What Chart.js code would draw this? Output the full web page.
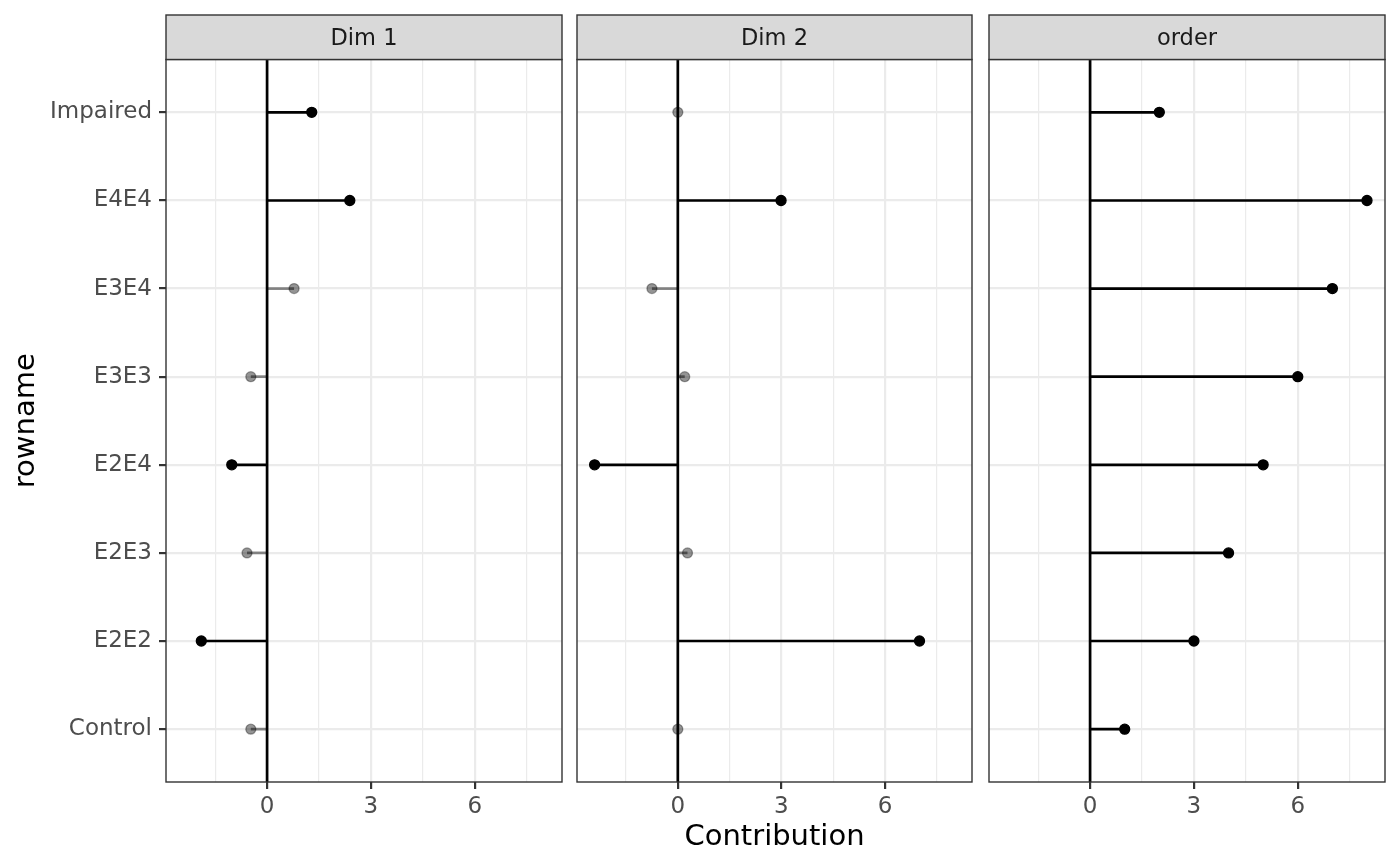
<!DOCTYPE html>
<html>
<head>
<meta charset="utf-8">
<script src="https://cdn.jsdelivr.net/npm/chart.js@4.4.1/dist/chart.umd.min.js"></script>
<style>
  html, body { margin: 0; padding: 0; background: #ffffff; }
  body { width: 1400px; height: 866px; position: relative; overflow: hidden; }
  .panel { position: absolute; top: 0; height: 866px; }
</style>
</head>
<body>
<div class="panel" style="left:0px;width:570px"><canvas id="c1"></canvas></div>
<div class="panel" style="left:570px;width:410px"><canvas id="c2"></canvas></div>
<div class="panel" style="left:980px;width:420px"><canvas id="c3"></canvas></div>
<script>
// ---- data ----
const rowNames = ['Control', 'E2E2', 'E2E3', 'E2E4', 'E3E3', 'E3E4', 'E4E4', 'Impaired'];
const panelTitles = ['Dim 1', 'Dim 2', 'order'];
const dim1Values = [-0.47, -1.9, -0.58, -1.02, -0.47, 0.78, 2.39, 1.29];
const dim2Values = [0.0, 7.0, 0.28, -2.41, 0.2, -0.75, 2.99, 0.0];
const orderValues = [1, 3, 4, 5, 6, 7, 8, 2];
const dim1Strong = [false, true, false, true, false, false, true, true];
const dim2Strong = [false, true, false, true, false, false, true, false];
const orderStrong = [true, true, true, true, true, true, true, true];
const xMajorTicks = [0, 3, 6];
const xMinorTicks = [-1.5, 1.5, 4.5, 7.5];
const xRange = [-2.92, 8.52];
const yRange = [-0.6, 7.6];

Chart.defaults.font.family = 'DejaVu Sans';
Chart.defaults.color = '#4D4D4D';

const STRONG = '#000000';
const WEAK_LINE = 'rgba(0,0,0,0.45)';
const WEAK_FILL = 'rgba(0,0,0,0.42)';
const WEAK_EDGE = 'rgba(0,0,0,0.35)';

const facetPlugin = {
  id: 'facet',
  afterDraw(chart, args, opts) {
    const ctx = chart.ctx;
    const a = chart.chartArea;
    ctx.save();
    // panel border
    ctx.strokeStyle = '#333333';
    ctx.lineWidth = 1.4;
    ctx.strokeRect(a.left, a.top, a.right - a.left, a.bottom - a.top);
    // strip
    const sTop = 15;
    ctx.fillStyle = '#D9D9D9';
    ctx.fillRect(a.left, sTop, a.right - a.left, a.top - sTop);
    ctx.strokeRect(a.left, sTop, a.right - a.left, a.top - sTop);
    ctx.fillStyle = '#1A1A1A';
    ctx.font = '22.5px "DejaVu Sans"';
    ctx.textAlign = 'center';
    ctx.textBaseline = 'alphabetic';
    ctx.fillText(opts.title, (a.left + a.right) / 2, 45);
    ctx.restore();
  }
};

function makeChart(id, idx, values, strong, pad) {
  const first = idx === 0;
  const middle = idx === 1;
  const datasets = [];
  // points (on top)
  datasets.push({
    data: values.map((v, i) => ({ x: v, y: i })),
    showLine: false,
    pointRadius: 5,
    pointBorderWidth: 1.3,
    pointBackgroundColor: strong.map(s => s ? STRONG : WEAK_FILL),
    pointBorderColor: strong.map(s => s ? STRONG : WEAK_EDGE),
    order: 0
  });
  // zero reference line
  datasets.push({
    data: [{ x: 0, y: yRange[0] }, { x: 0, y: yRange[1] }],
    showLine: true,
    borderColor: '#000000',
    borderWidth: 2.7,
    pointRadius: 0,
    order: 1
  });
  // lollipop stems
  values.forEach((v, i) => {
    datasets.push({
      data: [{ x: 0, y: i }, { x: v, y: i }],
      showLine: true,
      borderColor: strong[i] ? STRONG : WEAK_LINE,
      borderWidth: 2.7,
      borderCapStyle: 'butt',
      pointRadius: 0,
      order: 2
    });
  });

  return new Chart(document.getElementById(id), {
    type: 'scatter',
    data: { datasets },
    plugins: [facetPlugin],
    options: {
      responsive: true,
      maintainAspectRatio: false,
      animation: false,
      events: [],
      layout: { padding: { left: pad[0], right: pad[1], top: 59.5, bottom: 0 } },
      plugins: {
        legend: { display: false },
        tooltip: { enabled: false },
        facet: { title: panelTitles[idx] }
      },
      scales: {
        x: {
          type: 'linear',
          min: xRange[0],
          max: xRange[1],
          afterBuildTicks: s => {
            s.ticks = xMajorTicks.concat(xMinorTicks).sort((a, b) => a - b).map(v => ({ value: v }));
          },
          afterFit: s => { s.height = 84; },
          border: { display: false },
          grid: {
            color: '#EBEBEB',
            lineWidth: c => xMajorTicks.includes(c.tick.value) ? 2.2 : 1.2,
            tickLength: 7,
            tickColor: c => xMajorTicks.includes(c.tick.value) ? '#333333' : 'rgba(0,0,0,0)',
            tickWidth: 2.2
          },
          ticks: {
            autoSkip: false,
            maxRotation: 0,
            padding: 4,
            color: '#4D4D4D',
            font: { size: 23 },
            callback: v => xMajorTicks.includes(v) ? String(v) : ''
          },
          title: {
            display: middle,
            text: 'Contribution',
            color: '#000000',
            font: { size: 29 },
            padding: { top: 0, bottom: 11 }
          }
        },
        y: {
          type: 'linear',
          min: yRange[0],
          max: yRange[1],
          afterBuildTicks: s => {
            s.ticks = rowNames.map((r, i) => ({ value: i }));
          },
          afterFit: s => { s.width = first ? 166 : 0; },
          border: { display: false },
          grid: {
            color: '#EBEBEB',
            lineWidth: 2.2,
            drawTicks: first,
            tickLength: 7,
            tickColor: '#333333',
            tickWidth: 2.2
          },
          ticks: {
            display: first,
            padding: 7,
            color: '#4D4D4D',
            font: { size: 23 },
            callback: v => rowNames[v]
          },
          title: {
            display: first,
            text: 'rowname',
            color: '#000000',
            font: { size: 29 },
            padding: { top: 9, bottom: 0 }
          }
        }
      }
    }
  });
}

makeChart('c1', 0, dim1Values, dim1Strong, [0, 8]);
makeChart('c2', 1, dim2Values, dim2Strong, [7, 8]);
makeChart('c3', 2, orderValues, orderStrong, [9, 15]);
</script>
</body>
</html>
